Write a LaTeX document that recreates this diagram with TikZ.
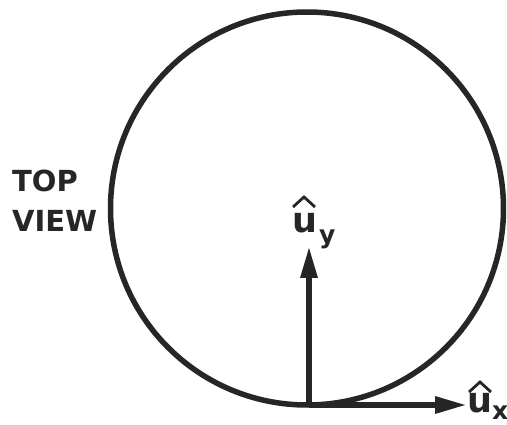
\documentclass[tikz,border=0pt]{standalone}
\usepackage{fontspec}
\setmainfont{DejaVu Sans}
\usetikzlibrary{arrows.meta}
\tikzset{
  ring/.style={draw=black!85, line width=5.5pt},
  vec/.style={draw=black!85, line width=6pt, -{Triangle[length=32pt,width=16pt]}},
  lbl/.style={font=\bfseries\fontsize{29}{30}\selectfont, text=black!85, inner sep=0pt},
  ulbl/.style={font=\bfseries\fontsize{35}{36}\selectfont, text=black!85, inner sep=0pt},
  sublbl/.style={font=\bfseries\fontsize{25}{26}\selectfont, text=black!85, inner sep=0pt},
  hat/.style={draw=black!85, line width=2.8pt, line join=miter}
}
\begin{document}
\begin{tikzpicture}[x=1pt,y=-1pt]
\useasboundingbox (0,0) rectangle (507,425);
\node[ring, circle, minimum size=393pt, inner sep=0pt] (c) at (307,208.5) {};
\coordinate (o) at (309,405);
\coordinate (ytip) at (309,246);
\coordinate (xtip) at (467,405);
\draw[vec] (o) -- (ytip);
\draw[vec] (o) -- (xtip);
\node[lbl, anchor=base west] (top) at (12,192) {TOP};
\node[lbl, anchor=base west] (view) at (12,232) {VIEW};
% u_y
\node[ulbl, anchor=base] (uy) at (305,233) {u};
\node[sublbl, anchor=base west] (ys) at (319,244) {y};
\coordinate (hy1) at (293,207);
\coordinate (hy2) at (304,197);
\coordinate (hy3) at (315,207);
\draw[hat] (hy1) -- (hy2) -- (hy3);
% u_x
\node[ulbl, anchor=base] (ux) at (480,413) {u};
\node[sublbl, anchor=base west] (xs) at (492,420) {x};
\coordinate (hx1) at (469,392);
\coordinate (hx2) at (480,382);
\coordinate (hx3) at (491,392);
\draw[hat] (hx1) -- (hx2) -- (hx3);
\end{tikzpicture}
\end{document}
